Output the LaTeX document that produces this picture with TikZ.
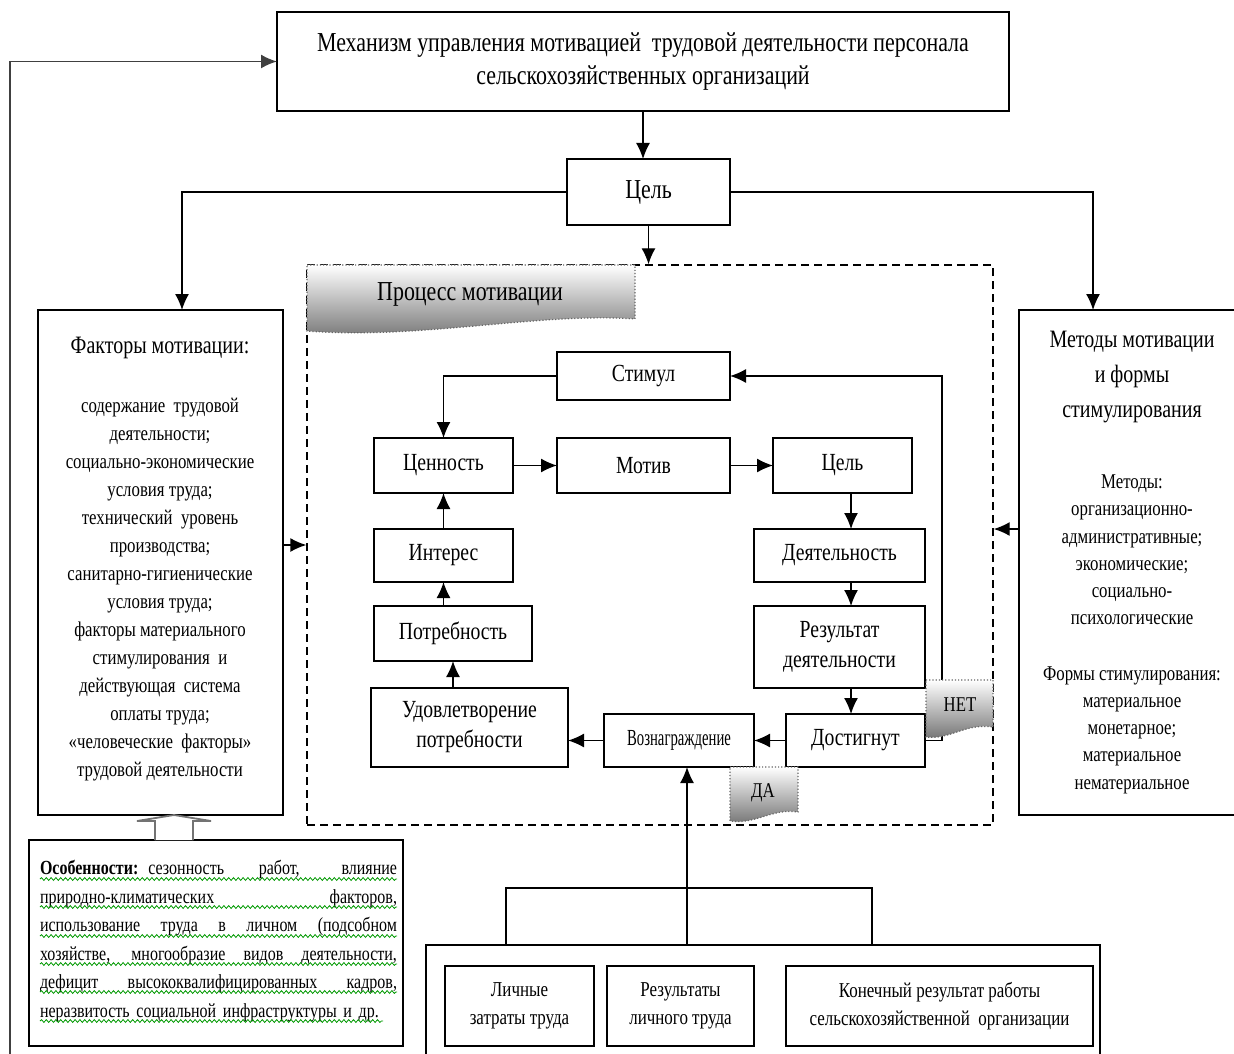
\documentclass[tikz,border=0pt]{standalone}
\usepackage{fontspec}
\setmainfont{Liberation Serif}[FakeStretch=0.8]
\usepackage{graphicx}
\usetikzlibrary{arrows.meta,calc,positioning,decorations.pathmorphing}

\newcommand\jline[1]{\noindent\hbox to 178.5pt{\spaceskip=0.3em plus 1fil\relax #1}\\}

\tikzset{
  box/.style={draw=black, line width=0.75pt, fill=white, inner sep=0pt, outer sep=0pt, align=center},
  arr/.style={line width=0.7pt, -{Latex[length=8pt,width=7pt]}},
  link/.style={line width=0.7pt},
  flag/.style={draw=black!60, densely dotted, line width=0.6pt, top color=white, bottom color=black!55},
  squig/.style={green!60!black, line width=0.4pt, decorate, decoration={snake, amplitude=0.7pt, segment length=2.4pt}},
  fbig/.style={font=\fontsize{13.7}{16.5}\selectfont},
  fproc/.style={font=\fontsize{12.3}{15}\selectfont},
  ftitle/.style={align=center, font=\fontsize{12.5}{17.5}\selectfont},
  flist/.style={align=center, font=\fontsize{10.5}{14}\selectfont},
  frlist/.style={align=center, font=\fontsize{10.5}{13.6}\selectfont},
  fbottom/.style={font=\fontsize{10.6}{14}\selectfont},
  ftag/.style={font=\fontsize{10.5}{12}\selectfont},
}

\begin{document}
\begin{tikzpicture}[x=0.5pt,y=-0.5pt]
\useasboundingbox (0,0) rectangle (1234,1053);

% top of the scheme
\node[box, fbig, minimum width=366pt, minimum height=49.5pt] (mech) at (643,61.5) {Механизм управления мотивацией~ трудовой деятельности персонала\\сельскохозяйственных организаций};
\node[box, fbig, minimum width=81.5pt, minimum height=33pt] (goal) at (648.5,192) {Цель};

% factors and methods
\node[box, minimum width=122.5pt, minimum height=252.5pt] (fact) at (160.5,562.5) {};
\node[ftitle] (facttitle) at (160,348) {Факторы мотивации:};
\node[flist] (factlist) at (160,590) {содержание~ трудовой\\деятельности;\\социально-экономические\\условия труда;\\технический~ уровень\\производства;\\санитарно-гигиенические\\условия труда;\\факторы материального\\стимулирования~ и\\действующая~ система\\оплаты труда;\\«человеческие~ факторы»\\трудовой деятельности};

\node[box, minimum width=113pt, minimum height=252.5pt] (meth) at (1132,562.5) {};
\node[ftitle] (methtitle) at (1132,377) {Методы мотивации\\и формы\\стимулирования};
\node[frlist] (methlist) at (1132,550) {Методы:\\организационно-\\административные;\\экономические;\\социально-\\психологические};
\node[frlist] (formlist) at (1132,730) {Формы стимулирования:\\материальное\\монетарное;\\материальное\\нематериальное};

% process of motivation
\node[draw, line width=0.7pt, dash pattern=on 4pt off 2.5pt, minimum width=343pt, minimum height=280pt] (proc) at (650,545) {};
\path[flag] (307,265) -- (635,265) -- (635,319) .. controls (540,312) and (420,340) .. (307,331) -- cycle;
\node[fbig] (proctitle) at (470,294) {Процесс мотивации};

\node[box, fproc, minimum width=86.5pt, minimum height=24pt] (stim) at (643.5,376) {Стимул};
\node[box, fproc, minimum width=69.5pt, minimum height=27.5pt] (val) at (443.5,465.5) {Ценность};
\node[box, fproc, minimum width=86.5pt, minimum height=27.5pt] (motiv) at (643.5,465.5) {Мотив};
\node[box, fproc, minimum width=69.5pt, minimum height=27.5pt] (goal2) at (842.5,465.5) {Цель};
\node[box, fproc, minimum width=69.5pt, minimum height=26.5pt] (inter) at (443.5,555.5) {Интерес};
\node[box, fproc, minimum width=85.5pt, minimum height=26.5pt] (act) at (839.5,555.5) {Деятельность};
\node[box, fproc, minimum width=79pt, minimum height=27.5pt] (need) at (453,633.5) {Потребность};
\node[box, fproc, minimum width=85.5pt, minimum height=41pt] (res) at (839.5,647) {Результат\\деятельности};
\node[box, fproc, minimum width=98.5pt, minimum height=39.5pt] (satisf) at (469.5,727.5) {Удовлетворение\\потребности};
\node[box, fproc, minimum width=75pt, minimum height=26.5pt] (reward) at (679,740.5) {\scalebox{0.8}[1]{\fontsize{11.5}{13}\selectfont Вознаграждение}};
\node[box, fproc, minimum width=69.5pt, minimum height=26.5pt] (reached) at (855.5,740.5) {Достигнут};

\coordinate (axis) at (851,0);
\coordinate (back) at (942,376);
\draw[arr] (stim.west) -| (val.north);
\draw[arr] (val.east) -- (motiv.west);
\draw[arr] (motiv.east) -- (goal2.west);
\draw[arr] (goal2.south -| axis) -- (act.north -| axis);
\draw[arr] (act.south -| axis) -- (res.north -| axis);
\draw[arr] (res.south -| axis) -- (reached.north -| axis);
\draw[arr] (reached.west) -- (reward.east);
\draw[arr] (reward.west) -- (satisf.east |- reward.west);
\draw[arr] (satisf.north -| need.south) -- (need.south);
\draw[arr] (need.north -| inter.south) -- (inter.south);
\draw[arr] (inter.north) -- (val.south);
\draw[arr] (reached.east) -| (back) -- (stim.east);

% yes / no flags
\path[flag] (926,680) -- (993,680) -- (993,727) .. controls (965,723) and (950,740) .. (926,737) -- cycle;
\node[ftag] (no) at (960,705) {НЕТ};
\path[flag] (730,767) -- (798,767) -- (798,812) .. controls (772,808) and (755,825) .. (730,821) -- cycle;
\node[ftag] (yes) at (763,793) {ДА};

% links between the parts
\coordinate (gl) at (182,0);
\coordinate (gr) at (1093,0);
\coordinate (mr) at (0,529);
\draw[arr] (mech.south) -- (mech.south |- goal.north);
\draw[arr] (goal.south) -- (goal.south |- proc.north);
\draw[arr] (goal.west) -| (fact.north -| gl);
\draw[arr] (goal.east) -| (meth.north -| gr);
\draw[arr] (fact.east |- proc.west) -- (proc.west);
\draw[arr] (meth.west |- mr) -- (proc.east |- mr);

% features of agriculture
\node[box, minimum width=187pt, minimum height=103pt] (feat) at (216,943) {};
\node[align=left, text width=178.5pt, font=\fontsize{10}{14.25}\selectfont] (feattext) at (218.5,941) {%
\jline{\textbf{Особенности:} сезонность работ, влияние}
\jline{природно-климатических факторов,}
\jline{использование труда в личном (подсобном}
\jline{хозяйстве, многообразие видов деятельности,}
\jline{дефицит высококвалифицированных кадров,}
неразвитость социальной инфраструктуры и др.};
\foreach \yy/\xe in {879/397, 907/397, 936/397, 964/397, 992/397, 1021/383}
  \draw[squig] (40,\yy) -- (\xe,\yy);
\draw[black!55, line width=0.9pt, fill=white] (155,840) -- (155,821) -- (137,821) -- (174,815) -- (211,821) -- (193,821) -- (193,840);

% results at the bottom
\node[box, minimum width=337pt, minimum height=62.5pt] (group) at (763,1007.5) {};
\node[box, fbottom, minimum width=74.5pt, minimum height=40pt] (pers) at (519.5,1006) {Личные\\затраты труда};
\node[box, fbottom, minimum width=73.5pt, minimum height=40pt] (persres) at (680.5,1006) {Результаты\\личного труда};
\node[box, fbottom, minimum width=153.5pt, minimum height=40pt] (final) at (939.5,1006) {Конечный результат работы\\сельскохозяйственной~ организации};
\coordinate (up) at (687,0);
\coordinate (bl) at (506,888);
\coordinate (br) at (872,888);
\draw[arr] (group.north -| up) -- (reward.south -| up);
\draw[link] (group.north -| bl) -- (bl) -- (br) -- (group.north -| br);

% back to the mechanism
\coordinate (fb) at (10,1060);
\draw[arr, black!75, line width=0.9pt] (fb) |- (mech.west);
\end{tikzpicture}
\end{document}
